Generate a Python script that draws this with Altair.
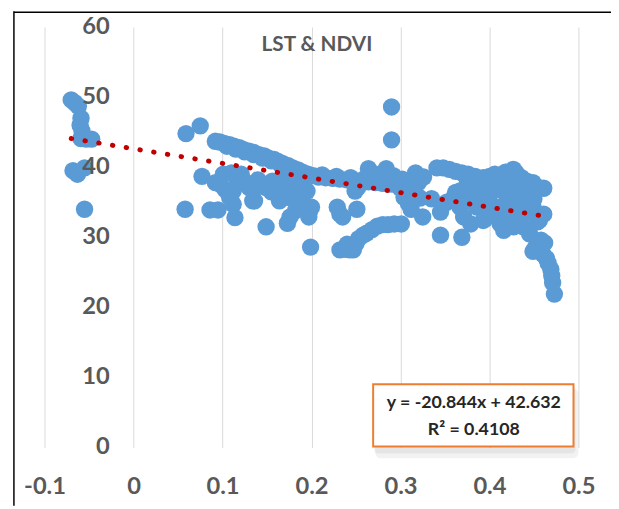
import altair as alt
import pandas as pd

# ---- data (NDVI, LST) ----
left_cluster = [(-0.070, 49.6), (-0.066, 49.2), (-0.062, 48.7), (-0.059, 47.0), (-0.060, 46.0),
                (-0.058, 45.2), (-0.059, 44.1), (-0.053, 44.0), (-0.047, 44.0), (-0.068, 39.5),
                (-0.063, 39.0), (-0.055, 39.9), (-0.055, 34.0)]
isolated_mid = [(0.059, 44.8), (0.075, 45.9), (0.077, 38.7), (0.058, 34.0), (0.086, 33.9), (0.095, 33.9)]
upper_band = [(0.092, 43.7), (0.097, 43.6), (0.102, 43.4), (0.108, 43.2), (0.113, 43.0), (0.119, 42.8),
              (0.124, 42.5), (0.130, 42.3), (0.135, 42.1), (0.141, 41.8), (0.147, 41.6), (0.152, 41.3),
              (0.158, 41.1), (0.163, 40.8), (0.168, 40.5), (0.174, 40.2), (0.179, 39.9), (0.185, 39.6),
              (0.190, 39.3), (0.196, 39.0), (0.202, 38.8), (0.105, 43.0), (0.115, 42.6), (0.125, 42.2),
              (0.135, 41.8), (0.145, 41.3), (0.155, 40.9), (0.165, 40.4), (0.175, 39.9), (0.185, 39.3),
              (0.195, 38.8)]
flat_band = [(0.208, 38.6), (0.216, 38.5), (0.224, 38.4), (0.232, 38.3), (0.240, 38.2), (0.248, 38.1),
             (0.256, 38.0), (0.264, 37.9), (0.272, 37.8), (0.280, 37.7), (0.288, 37.6), (0.296, 37.5),
             (0.212, 38.9), (0.228, 38.7), (0.244, 38.5), (0.260, 38.4), (0.264, 39.8), (0.272, 39.0),
             (0.284, 39.8), (0.292, 38.8), (0.302, 38.3), (0.300, 37.0), (0.310, 36.6), (0.317, 39.2),
             (0.326, 38.6), (0.341, 39.9), (0.293, 37.6), (0.308, 38.0), (0.320, 37.8)]
mid_right = [(0.304, 35.7), (0.316, 36.6), (0.312, 34.0), (0.325, 32.9), (0.309, 34.8), (0.335, 35.5),
             (0.345, 33.6), (0.345, 30.3), (0.322, 35.6)]
right_upper = [(0.348, 39.9), (0.355, 39.7), (0.362, 39.4), (0.369, 39.2), (0.376, 39.0), (0.384, 38.7),
               (0.393, 38.5), (0.400, 38.7), (0.406, 39.0), (0.418, 39.3), (0.427, 39.7), (0.430, 39.2),
               (0.436, 38.5), (0.442, 38.0), (0.449, 37.8), (0.455, 37.1), (0.461, 37.0)]
right_fill = [(0.367, 36.6), (0.375, 37.6), (0.386, 37.1), (0.395, 37.5), (0.404, 36.6), (0.416, 36.6),
              (0.423, 37.1), (0.434, 36.2), (0.441, 35.2), (0.449, 34.3), (0.456, 32.4), (0.412, 34.3),
              (0.397, 33.3), (0.386, 34.3), (0.367, 34.3), (0.360, 35.7), (0.352, 35.0), (0.371, 32.9),
              (0.379, 31.9), (0.393, 32.4), (0.412, 31.9), (0.416, 31.0), (0.427, 31.5), (0.438, 31.5),
              (0.445, 30.5), (0.369, 30.0), (0.380, 35.5), (0.390, 35.8), (0.400, 35.0), (0.420, 35.5),
              (0.430, 34.5), (0.440, 33.5), (0.450, 35.5), (0.415, 38.0), (0.425, 38.2), (0.405, 37.8),
              (0.432, 32.4), (0.454, 32.2), (0.461, 33.3), (0.395, 32.6), (0.384, 34.7), (0.362, 36.4),
              (0.408, 33.2), (0.424, 33.0), (0.438, 36.8), (0.446, 36.0)]
tail = [(0.458, 29.6), (0.452, 28.6), (0.449, 28.0), (0.460, 27.6), (0.464, 27.0), (0.466, 26.3),
        (0.469, 25.4), (0.470, 24.5), (0.471, 23.5), (0.473, 21.9), (0.462, 29.2)]
lower_curve = [(0.232, 28.2), (0.238, 28.3), (0.243, 28.2), (0.247, 28.2), (0.240, 29.0), (0.250, 29.1),
               (0.253, 29.8), (0.258, 30.3), (0.262, 30.6), (0.268, 31.1), (0.274, 31.6), (0.280, 31.8),
               (0.286, 31.8), (0.293, 31.9), (0.301, 31.9)]
mid_scatter = [(0.229, 34.3), (0.232, 33.3), (0.235, 32.9), (0.251, 34.0), (0.249, 36.6), (0.252, 37.1),
               (0.199, 28.6), (0.290, 48.6), (0.290, 43.9)]
lower_left = [(0.092, 37.8), (0.101, 39.0), (0.110, 39.2), (0.097, 37.6), (0.103, 36.8), (0.108, 35.7),
              (0.112, 34.7), (0.114, 32.8), (0.121, 39.0), (0.127, 37.8), (0.130, 37.1), (0.136, 37.1),
              (0.136, 35.2), (0.143, 37.3), (0.149, 37.1), (0.149, 31.5), (0.156, 38.0), (0.160, 37.8),
              (0.164, 37.1), (0.164, 35.2), (0.171, 36.2), (0.171, 38.8), (0.173, 35.7), (0.173, 32.0),
              (0.176, 32.9), (0.179, 37.1), (0.180, 38.0), (0.182, 35.2), (0.182, 33.8), (0.186, 35.7),
              (0.189, 36.2), (0.193, 34.3), (0.195, 36.6), (0.197, 32.9), (0.198, 33.8), (0.200, 34.3),
              (0.116, 38.2), (0.140, 38.2), (0.155, 36.5), (0.168, 38.0), (0.188, 37.5), (0.112, 36.6),
              (0.134, 35.2)]

slope = -20.844
intercept = 42.632
trend_x = [-0.07, 0.462]
x_ticks = [-0.1, 0, 0.1, 0.2, 0.3, 0.4, 0.5]
y_ticks = [0, 10, 20, 30, 40, 50, 60]
title_text = "LST & NDVI"
eq_line1 = "y = -20.844x + 42.632"
eq_line2 = "R\u00b2 = 0.4108"

groups = [left_cluster, isolated_mid, upper_band, flat_band, mid_right, right_upper,
          right_fill, tail, lower_curve, mid_scatter, lower_left]
pairs = [p for g in groups for p in g]
pts = pd.DataFrame({"NDVI": [p[0] for p in pairs], "LST": [p[1] for p in pairs]})
trend = pd.DataFrame({"NDVI": trend_x, "LST": [slope * x + intercept for x in trend_x]})
ylab = pd.DataFrame({"v": y_ticks})

FONT = "Lato"
GRAY = "#595959"
xs = alt.Scale(domain=[-0.1, 0.5], nice=False, zero=False)
ys = alt.Scale(domain=[0, 60], nice=False, zero=False)

xaxis = alt.Axis(values=x_ticks, title=None, grid=True, gridColor="#D9D9D9", gridWidth=1,
                 domain=False, ticks=False, labelFont=FONT, labelFontSize=24,
                 labelFontWeight="bold", labelColor=GRAY, labelPadding=40,
                 labelBaseline="middle", labelFlush=False, labelOverlap=False,
                 labelExpr="datum.value < 0 ? '-' + format(-datum.value, '~g') : format(datum.value, '~g')")
yaxis = alt.Axis(values=y_ticks, title=None, grid=True, gridColor="#D9D9D9", gridWidth=1,
                 domain=False, ticks=False, labels=False)

points = alt.Chart(pts).mark_circle(size=310, color="#5B9BD5", opacity=1).encode(
    x=alt.X("NDVI:Q", scale=xs, axis=xaxis),
    y=alt.Y("LST:Q", scale=ys, axis=yaxis),
)

trendline = alt.Chart(trend).mark_line(color="#C00000", strokeWidth=5, strokeCap="round",
                                       strokeDash=[0.5, 13.6]).encode(
    x=alt.X("NDVI:Q", scale=xs),
    y=alt.Y("LST:Q", scale=ys),
)

ylabels = alt.Chart(ylab).mark_text(font=FONT, fontSize=24, fontWeight="bold", color=GRAY,
                                    align="right", baseline="middle", dx=-24).encode(
    x=alt.datum(0.0, scale=xs),
    y=alt.Y("v:Q", scale=ys, axis=None),
    text=alt.Text("v:Q"),
)

title = alt.Chart(pd.DataFrame({"t": [title_text]})).mark_text(
    font=FONT, fontSize=21, fontWeight="bold", color=GRAY, align="center", baseline="middle").encode(
    x=alt.value(276), y=alt.value(18), text="t:N")

shadow1 = alt.Chart(pd.DataFrame({"a": [1]})).mark_rect(color="#000000", opacity=0.05, cornerRadius=6).encode(
    x=alt.value(335), x2=alt.value(541), y=alt.value(366), y2=alt.value(437))
shadow2 = alt.Chart(pd.DataFrame({"a": [1]})).mark_rect(color="#000000", opacity=0.05, cornerRadius=4).encode(
    x=alt.value(334), x2=alt.value(538), y=alt.value(364), y2=alt.value(432))
box = alt.Chart(pd.DataFrame({"a": [1]})).mark_rect(fill="white", stroke="#ED7D31", strokeWidth=2).encode(
    x=alt.value(333), x2=alt.value(536), y=alt.value(362), y2=alt.value(425))
eq1 = alt.Chart(pd.DataFrame({"t": [eq_line1]})).mark_text(
    font=FONT, fontSize=18, fontWeight="bold", color="#262626", align="center", baseline="middle").encode(
    x=alt.value(435), y=alt.value(381), text="t:N")
eq2 = alt.Chart(pd.DataFrame({"t": [eq_line2]})).mark_text(
    font=FONT, fontSize=18, fontWeight="bold", color="#262626", align="center", baseline="middle").encode(
    x=alt.value(435), y=alt.value(408), text="t:N")

frame_left = alt.Chart(pd.DataFrame({"a": [1]})).mark_rule(color="black", strokeWidth=1.5).encode(
    x=alt.value(-31), y=alt.value(-16), y2=alt.value(485))
frame_top = alt.Chart(pd.DataFrame({"a": [1]})).mark_rule(color="black", strokeWidth=1.5).encode(
    x=alt.value(-31), x2=alt.value(574), y=alt.value(-15))

chart = alt.layer(points, trendline, ylabels, title, shadow1, shadow2, box, eq1, eq2,
                  frame_left, frame_top).properties(
    width=541, height=426,
    autosize=alt.AutoSizeParams(type="none"),
    padding={"left": 37, "top": 16, "right": 33, "bottom": 59},
    background="white",
).configure_view(stroke=None)

chart.save("out.html", embed_options={"renderer": "svg", "actions": False})
